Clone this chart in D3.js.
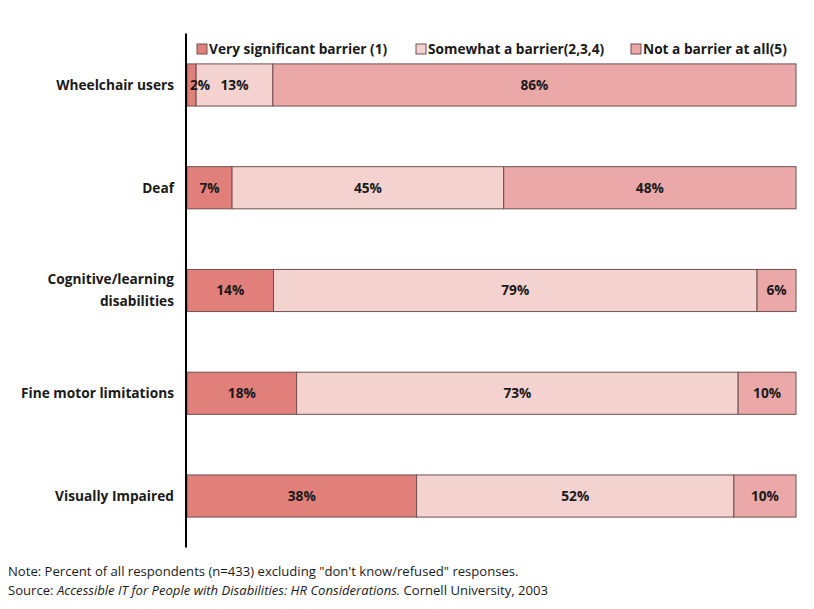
<!DOCTYPE html>
<html>
<head>
<meta charset="utf-8">
<script src="https://cdn.jsdelivr.net/npm/d3@7"></script>
<style>
  body { margin: 0; background: #fff; }
  text { font-family: "Open Sans", sans-serif; fill: #1a1a1a; }
</style>
</head>
<body>
<svg id="chart" width="814" height="609"></svg>
<script>
// data (percent of respondents)
var groups = ['Wheelchair users', 'Deaf', 'Cognitive/learning disabilities', 'Fine motor limitations', 'Visually Impaired']
var seriesNames = ['Very significant barrier (1)', 'Somewhat a barrier(2,3,4)', 'Not a barrier at all(5)']
var verySignificant = [1.5, 7.4, 14.2, 18.0, 37.7]
var somewhat = [12.6, 44.6, 79.4, 72.5, 52.1]
var notBarrier = [85.9, 48.0, 6.4, 9.5, 10.2]
var colors = ['#e17f7b', '#f3d2d0', '#eaa9a8']

var svg = d3.select('#chart')
var fsBold = 13.7
var fs = 13.1

var rows = groups.map((g, i) => ({group: g, s0: verySignificant[i], s1: somewhat[i], s2: notBarrier[i]}))
var stack = d3.stack().keys(['s0', 's1', 's2'])
var layers = stack(rows)

var x = d3.scaleLinear().domain([0, 100]).range([187, 796])
var y = d3.scaleBand().domain(groups).range([33.6, 547.4])
  .paddingInner(0.59).paddingOuter(0.295)

// bars
var layerG = svg.selectAll('g.layer').data(layers).enter().append('g')
  .attr('class', 'layer')
  .attr('fill', (d, i) => colors[i])

layerG.selectAll('rect').data(d => d).enter().append('rect')
  .attr('x', d => x(d[0]))
  .attr('y', d => y(d.data.group))
  .attr('width', d => x(d[1]) - x(d[0]))
  .attr('height', y.bandwidth())
  .attr('stroke', '#6e5050')
  .attr('stroke-width', 1)

// value labels, drawn on top of all the bars
var valueG = svg.selectAll('g.values').data(layers).enter().append('g')
  .attr('class', 'values')
valueG.selectAll('text').data(d => d).enter().append('text')
  .attr('x', d => {
    let w = x(d[1]) - x(d[0])
    return w < 20 ? x(d[0]) + 3 : (x(d[0]) + x(d[1])) / 2
  })
  .attr('text-anchor', d => (x(d[1]) - x(d[0]) < 20 ? 'start' : 'middle'))
  .attr('y', d => y(d.data.group) + y.bandwidth() / 2)
  .attr('dy', '0.36em')
  .attr('font-size', fsBold)
  .attr('font-weight', 'bold')
  .text(d => Math.round(d[1] - d[0]) + '%')

// category labels
var labelG = svg.append('g')
groups.forEach(g => {
  let lines = g === 'Cognitive/learning disabilities' ? ['Cognitive/learning', 'disabilities'] : [g]
  let cy = y(g) + y.bandwidth() / 2
  lines.forEach((l, j) => {
    labelG.append('text')
      .attr('x', 174)
      .attr('y', cy + (j - (lines.length - 1) / 2) * 22)
      .attr('dy', '0.36em')
      .attr('text-anchor', 'end')
      .attr('font-size', fsBold)
      .attr('font-weight', 'bold')
      .text(l)
  })
})

// vertical axis line
svg.append('line')
  .attr('x1', 186).attr('x2', 186)
  .attr('y1', y.range()[0]).attr('y2', y.range()[1])
  .attr('stroke', '#000').attr('stroke-width', 2)

// legend
var legendX = [197, 416, 631]
var legend = svg.selectAll('g.legend').data(seriesNames).enter().append('g')
  .attr('class', 'legend')
  .attr('transform', (d, i) => 'translate(' + legendX[i] + ',49)')
legend.append('rect')
  .attr('x', 0).attr('y', -5).attr('width', 10).attr('height', 10)
  .attr('fill', (d, i) => colors[i])
  .attr('stroke', '#6e5050')
legend.append('text')
  .attr('x', 12).attr('dy', '0.36em')
  .attr('font-size', fsBold)
  .attr('font-weight', 'bold')
  .text(d => d)

// footnotes
svg.append('text').attr('x', 8).attr('y', 576).attr('font-size', fs)
  .text('Note: Percent of all respondents (n=433) excluding "don\'t know/refused" responses.')
var src = svg.append('text').attr('x', 8).attr('y', 595).attr('font-size', fs)
src.append('tspan').text('Source: ')
src.append('tspan').attr('font-style', 'italic').text('Accessible IT for People with Disabilities: HR Considerations.')
src.append('tspan').text(' Cornell University, 2003')
</script>
</body>
</html>
